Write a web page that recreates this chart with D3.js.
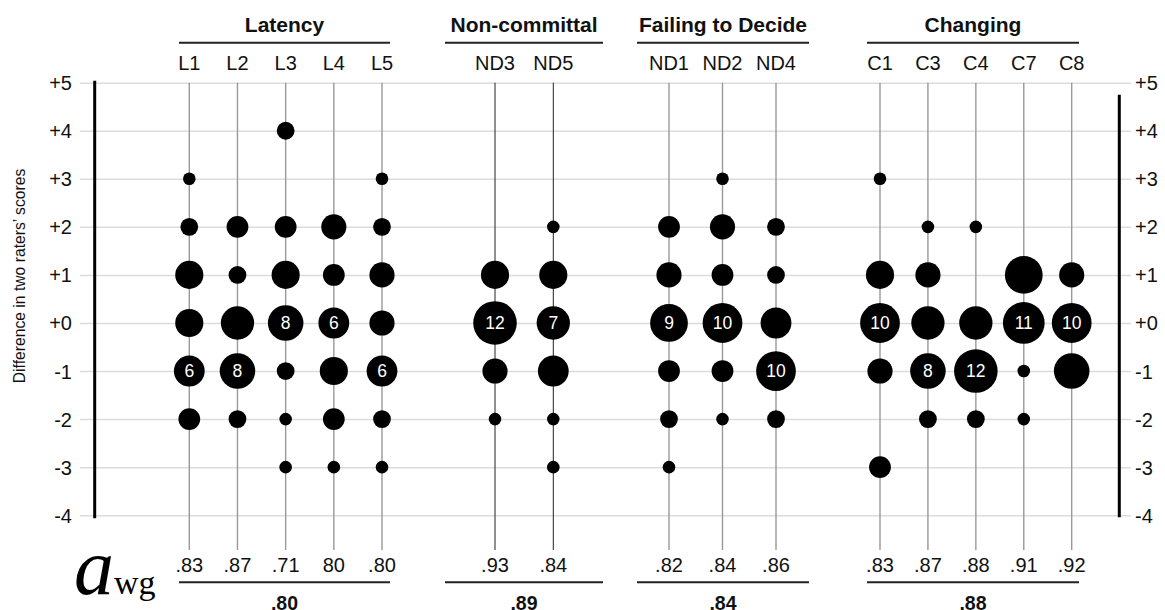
<!DOCTYPE html>
<html>
<head>
<meta charset="utf-8">
<script src="https://cdn.jsdelivr.net/npm/d3@7/dist/d3.min.js"></script>
<style>
  html, body { margin: 0; padding: 0; background: #fff; }
  svg { display: block; font-family: "Liberation Sans", Arial, Helvetica, sans-serif; }
</style>
</head>
<body>
<svg id="chart" width="1165" height="610"></svg>
<script>
// ---------------- DATA ----------------
const groupNames = ["Latency", "Non-committal", "Failing to Decide", "Changing"];
const groupMeans = [".80", ".89", ".84", ".88"];
const groupColumns = [
  ["L1", "L2", "L3", "L4", "L5"],
  ["ND3", "ND5"],
  ["ND1", "ND2", "ND4"],
  ["C1", "C3", "C4", "C7", "C8"]
];
const columnAwg = {
  L1: ".83", L2: ".87", L3: ".71", L4: "80", L5: ".80",
  ND3: ".93", ND5: ".84",
  ND1: ".82", ND2: ".84", ND4: ".86",
  C1: ".83", C3: ".87", C4: ".88", C7: ".91", C8: ".92"
};
const yTickValues = [5, 4, 3, 2, 1, 0, -1, -2, -3, -4];
const yTickLabels = ["+5", "+4", "+3", "+2", "+1", "+0", "-1", "-2", "-3", "-4"];
// score differences for which counts are listed
const diffs = [4, 3, 2, 1, 0, -1, -2, -3];
// counts of rater pairs at each difference (+4 .. -3)
const L1  = [0, 1, 2, 5, 5, 6, 3, 0];
const L2  = [0, 0, 3, 2, 7, 8, 2, 0];
const L3  = [2, 0, 3, 5, 8, 2, 1, 1];
const L4  = [0, 0, 4, 3, 6, 5, 3, 1];
const L5  = [0, 1, 2, 4, 4, 6, 2, 1];
const ND3 = [0, 0, 0, 5, 12, 4, 1, 0];
const ND5 = [0, 0, 1, 5, 7, 6, 1, 1];
const ND1 = [0, 0, 3, 4, 9, 3, 2, 1];
const ND2 = [0, 1, 4, 3, 10, 3, 1, 0];
const ND4 = [0, 0, 2, 2, 6, 10, 2, 0];
const C1  = [0, 1, 0, 5, 10, 4, 0, 3];
const C3  = [0, 0, 1, 4, 7, 8, 2, 0];
const C4  = [0, 0, 1, 0, 7, 12, 2, 0];
const C7  = [0, 0, 0, 9, 11, 1, 1, 0];
const C8  = [0, 0, 0, 4, 10, 8, 0, 0];
const columnCounts = { L1, L2, L3, L4, L5, ND3, ND5, ND1, ND2, ND4, C1, C3, C4, C7, C8 };
const yTitle = "Difference in two raters\u2019 scores";

// ---------------- LAYOUT ----------------
const groupColumnRange = [[189.3, 382], [495, 553.3], [669, 776], [880, 1071.7]];
const groupLineRange = [[179, 390], [445, 603], [637, 809], [867, 1079]];
const darkColumnGroups = [1];
const FONT = "'Liberation Sans', Arial, Helvetica, sans-serif";

const svg = d3.select("#chart");
const y = d3.scaleLinear().domain([5, -4]).range([82.7, 515.2]);
const r = d3.scaleSqrt().domain([0, 12]).range([0, 21.8]);

const gridLeft = 80, gridRight = 1131;

// Gridlines + left tick labels via axis
const leftAxis = d3.axisLeft(y)
  .tickValues(yTickValues)
  .tickFormat((d, i) => yTickLabels[i])
  .tickSize(-(gridRight - gridLeft))
  .tickPadding(8);
const gL = svg.append("g").attr("transform", `translate(${gridLeft},0)`).call(leftAxis);
gL.select(".domain").remove();
gL.selectAll(".tick line").attr("stroke", "#dcdcdc").attr("stroke-width", 1.5);
gL.selectAll(".tick text").attr("fill", "#111").attr("dy", "0.35em")
  .style("font-size", "20px").style("font-family", FONT);

const rightAxis = d3.axisRight(y)
  .tickValues(yTickValues)
  .tickFormat((d, i) => yTickLabels[i])
  .tickSize(0)
  .tickPadding(4);
const gR = svg.append("g").attr("transform", `translate(${gridRight},0)`).call(rightAxis);
gR.select(".domain").remove();
gR.selectAll(".tick text").attr("fill", "#111").attr("dy", "0.35em")
  .style("font-size", "20px").style("font-family", FONT);

// Thick side bars
svg.append("line").attr("x1", 94.7).attr("x2", 94.7).attr("y1", y(5) - 2).attr("y2", y(-4) + 3)
  .attr("stroke", "#000").attr("stroke-width", 3);
svg.append("line").attr("x1", 1119.3).attr("x2", 1119.3).attr("y1", y(5) + 12).attr("y2", y(-4) + 2)
  .attr("stroke", "#000").attr("stroke-width", 3);

// Y title
svg.append("text")
  .attr("transform", "translate(25,276) rotate(-90)")
  .attr("text-anchor", "middle")
  .style("font-size", "15.7px").style("font-family", FONT).attr("fill", "#111")
  .text(yTitle);

// Groups
groupNames.forEach((gName, gi) => {
  const cols = groupColumns[gi];
  const x = d3.scalePoint().domain(cols).range(groupColumnRange[gi]);
  const [lx0, lx1] = groupLineRange[gi];
  const cx = (lx0 + lx1) / 2;
  const g = svg.append("g");

  // header
  g.append("text").attr("x", cx).attr("y", 31.5).attr("text-anchor", "middle")
    .style("font-size", "21px").style("font-weight", "bold").style("font-family", FONT)
    .attr("fill", "#111").text(gName);
  g.append("line").attr("x1", lx0).attr("x2", lx1).attr("y1", 42.7).attr("y2", 42.7)
    .attr("stroke", "#222").attr("stroke-width", 2);

  // bottom line + mean
  g.append("line").attr("x1", lx0).attr("x2", lx1).attr("y1", 582.3).attr("y2", 582.3)
    .attr("stroke", "#222").attr("stroke-width", 2);
  g.append("text").attr("x", cx).attr("y", 610).attr("text-anchor", "middle")
    .style("font-size", "19.5px").style("font-weight", "bold").style("font-family", FONT)
    .attr("fill", "#111").text(groupMeans[gi]);

  const dark = darkColumnGroups.includes(gi);
  cols.forEach(c => {
    const xc = x(c);
    g.append("text").attr("x", xc).attr("y", 70).attr("text-anchor", "middle")
      .style("font-size", "20px").style("font-family", FONT).attr("fill", "#111").text(c);
    g.append("line").attr("x1", xc).attr("x2", xc).attr("y1", y(5)).attr("y2", 550)
      .attr("stroke", dark ? "#222" : "#999").attr("stroke-width", dark ? 1 : 1.4);
    g.append("text").attr("x", xc).attr("y", 572).attr("text-anchor", "middle")
      .style("font-size", "20px").style("font-family", FONT).attr("fill", "#111").text(columnAwg[c]);

    const vals = columnCounts[c];
    const maxV = d3.max(vals);
    const pts = diffs.map((d, i) => ({ d, n: vals[i] })).filter(p => p.n > 0);
    g.selectAll(null).data(pts).enter().append("circle")
      .attr("cx", xc).attr("cy", p => y(p.d)).attr("r", p => r(p.n)).attr("fill", "#000");
    g.selectAll(null).data(pts.filter(p => p.n === maxV && p.n >= 6)).enter().append("text")
      .attr("x", xc).attr("y", p => y(p.d)).attr("dy", "0.36em")
      .attr("text-anchor", "middle").style("font-size", "17.5px").style("font-family", FONT)
      .attr("fill", "#fff").text(p => p.n);
  });
});

// a_wg label
svg.append("text").attr("x", 74).attr("y", 594)
  .style("font-family", "'Liberation Serif', 'Times New Roman', serif")
  .style("font-style", "italic").style("font-size", "80px").attr("fill", "#000").text("a");
svg.append("text").attr("x", 114).attr("y", 594)
  .style("font-family", "'Liberation Serif', 'Times New Roman', serif")
  .style("font-size", "34px").attr("fill", "#000").text("wg");
</script>
</body>
</html>
